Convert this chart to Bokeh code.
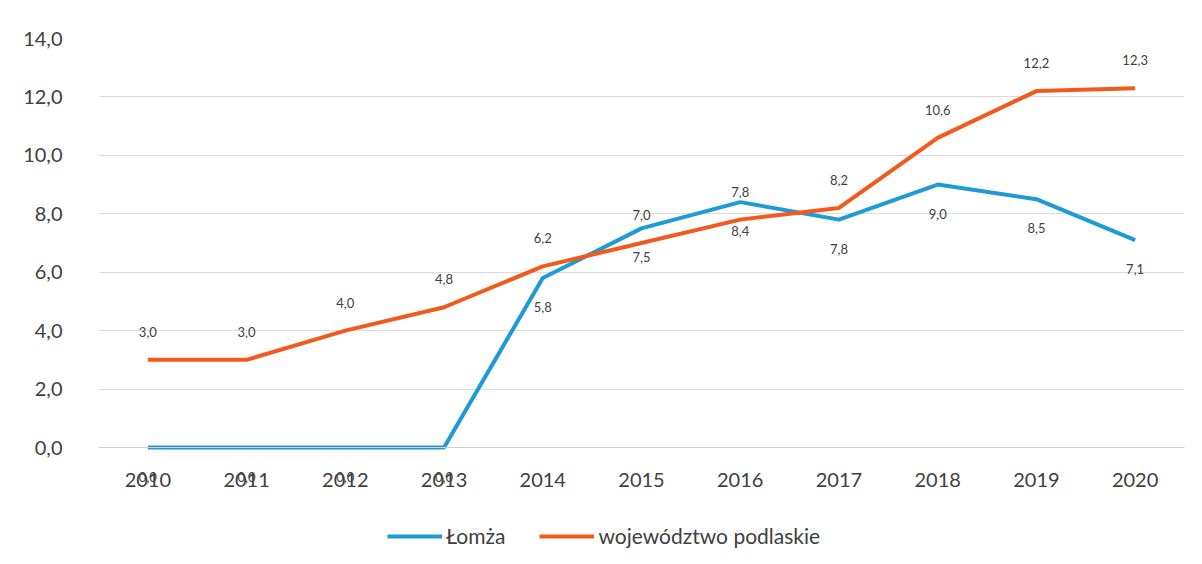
from bokeh.plotting import figure
from bokeh.models import ColumnDataSource, FixedTicker, Legend, LegendItem, Range1d
from bokeh.core.properties import value
from bokeh.embed import file_html
from bokeh.resources import INLINE

years = ["2010", "2011", "2012", "2013", "2014", "2015", "2016", "2017", "2018", "2019", "2020"]
lomza = [0.0, 0.0, 0.0, 0.0, 5.8, 7.5, 8.4, 7.8, 9.0, 8.5, 7.1]
podlaskie = [3.0, 3.0, 4.0, 4.8, 6.2, 7.0, 7.8, 8.2, 10.6, 12.2, 12.3]
y_ticks = [0, 2, 4, 6, 8, 10, 12, 14]
y_tick_labels = ["0,0", "2,0", "4,0", "6,0", "8,0", "10,0", "12,0", "14,0"]
series_names = ["Łomża", "województwo podlaskie"]

FONT = "Lato"
BLUE = "#1E9AD6"
ORANGE = "#F25A1D"
TXT = "#404040"

def fmt(v):
    return f"{v:.1f}".replace(".", ",")

# layout geometry (pixels)
FRAME_W, FRAME_H = 1086, 510
PLOT_H = 409            # pixels between value 0 and value 14
Y_MAX = 14
y_min = -(FRAME_H - PLOT_H) * Y_MAX / PLOT_H

xs = list(range(len(years)))
src_l = ColumnDataSource(dict(x=xs, y=lomza, lab=[fmt(v) for v in lomza]))
src_p = ColumnDataSource(dict(x=xs, y=podlaskie, lab=[fmt(v) for v in podlaskie]))

p = figure(frame_width=FRAME_W, frame_height=FRAME_H, output_backend="svg", toolbar_location=None,
           x_range=Range1d(-0.5, len(years) - 0.5), y_range=Range1d(y_min, Y_MAX),
           min_border_left=98, min_border_right=2, min_border_top=38, min_border_bottom=0)
p.outline_line_color = None
p.background_fill_color = "white"
p.border_fill_color = "white"

p.xgrid.grid_line_color = None
p.ygrid.grid_line_color = "#DCDCDC"
p.ygrid.grid_line_width = 1
p.ygrid.ticker = FixedTicker(ticks=y_ticks)

p.yaxis.ticker = FixedTicker(ticks=y_ticks)
p.yaxis.major_label_overrides = {t: l for t, l in zip(y_ticks, y_tick_labels)}
p.yaxis.axis_line_color = None
p.yaxis.major_tick_line_color = None
p.yaxis.minor_tick_line_color = None
p.yaxis.major_label_text_font = FONT
p.yaxis.major_label_text_font_size = "20px"
p.yaxis.major_label_text_color = TXT
p.yaxis.major_label_standoff = 30

p.xaxis.fixed_location = 0
p.xaxis.ticker = FixedTicker(ticks=xs)
p.xaxis.major_label_overrides = {i: y for i, y in enumerate(years)}
p.xaxis.axis_line_color = "#D0D0D0"
p.xaxis.major_tick_line_color = None
p.xaxis.minor_tick_line_color = None
p.xaxis.major_label_text_font = FONT
p.xaxis.major_label_text_font_size = "20px"
p.xaxis.major_label_text_color = TXT
p.xaxis.major_label_standoff = 19

r_l = p.line("x", "y", source=src_l, line_color=BLUE, line_width=4)
r_p = p.line("x", "y", source=src_p, line_color=ORANGE, line_width=4)

p.text("x", "y", text="lab", source=src_p, text_font=value(FONT), text_font_size="13px",
       text_color=TXT, text_align="center", text_baseline="middle", y_offset=-28)
p.text("x", "y", text="lab", source=src_l, text_font=value(FONT), text_font_size="13px",
       text_color=TXT, text_align="center", text_baseline="middle", y_offset=29)

legend = Legend(items=[LegendItem(label=series_names[0], renderers=[r_l]),
                       LegendItem(label=series_names[1], renderers=[r_p])],
                orientation="horizontal", location=(289, 0),
                label_text_font=FONT, label_text_font_size="21px", label_text_color=TXT,
                glyph_width=55, label_standoff=4, spacing=34, padding=5,
                border_line_color=None, background_fill_alpha=0, margin=0)
p.add_layout(legend, "center")

open("out.html", "w").write(file_html(p, INLINE))
